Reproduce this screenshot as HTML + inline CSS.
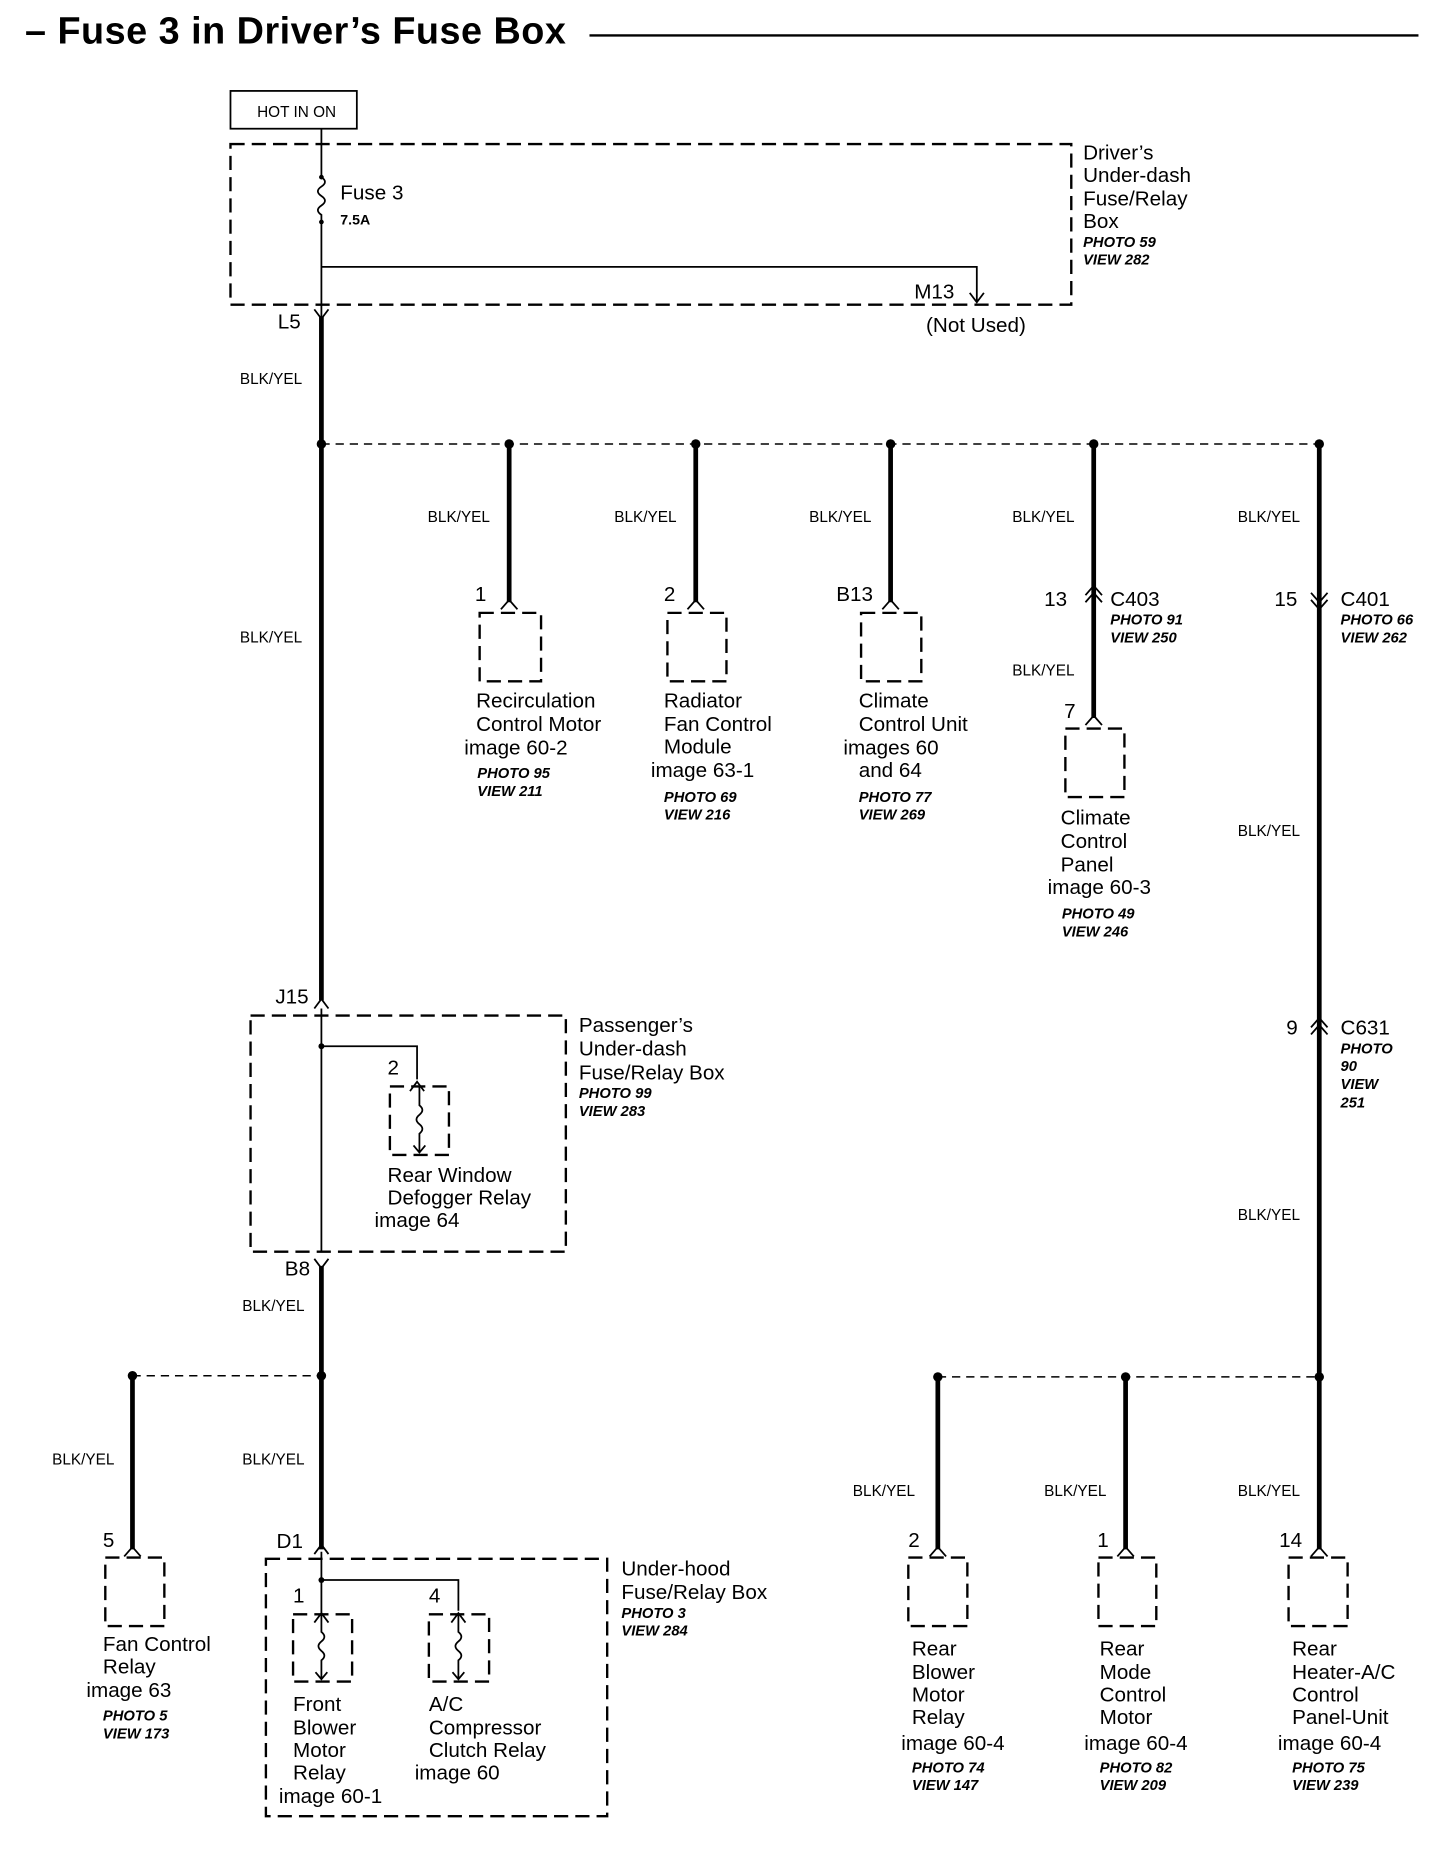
<!DOCTYPE html>
<html><head><meta charset="utf-8"><style>
html,body{margin:0;padding:0;background:#fff}
svg{display:block}
text{font-family:"Liberation Sans",sans-serif;fill:#000}
.l{font-size:17.5px}
.w{font-size:13px}
.p{font-size:12.5px;font-style:italic;font-weight:bold}
.t{stroke:#000;stroke-width:4;fill:none}
.n{stroke:#000;stroke-width:1.5;fill:none}
.d{stroke:#000;stroke-width:2;fill:none;stroke-dasharray:12 6}
.dl{stroke:#000;stroke-width:1.3;fill:none;stroke-dasharray:7 5}
</style></head><body>
<svg width="1456" height="1850" viewBox="0 0 1240 1576" xmlns="http://www.w3.org/2000/svg">
<g transform="translate(1,2) scale(1.006)">
<text x="20" y="35" style="font-size:32px;font-weight:bold" textLength="458">– Fuse 3 in Driver’s Fuse Box</text>
<line x1="498" y1="28" x2="1200" y2="28" stroke="#000" stroke-width="2"/>

<rect x="194" y="75" width="107" height="32" class="n"/>
<text x="250" y="97" text-anchor="middle" style="font-size:13px">HOT IN ON</text>
<rect x="194" y="120" width="712" height="136" class="d"/>
<path class="n" d="M271 107 V148 q6 4 0 8 q-6 4 0 8 q6 4 0 8 q-6 4 0 8 V270"/>
<circle cx="271" cy="148" r="2"/><circle cx="271" cy="186" r="2"/>
<text x="287" y="167" class="l">Fuse 3</text>
<text x="287" y="188" style="font-size:12px;font-weight:bold">7.5A</text>
<path class="n" d="M271 224 H826 V254 M820 246 L826 254 L832 246"/>
<text x="773" y="251" class="l">M13</text>
<text x="783" y="279" class="l">(Not Used)</text>
<text x="916" y="133" class="l">Driver’s</text>
<text x="916" y="152" class="l">Under-dash</text>
<text x="916" y="172" class="l">Fuse/Relay</text>
<text x="916" y="191" class="l">Box</text>
<text x="916" y="207" class="p">PHOTO 59</text>
<text x="916" y="222" class="p">VIEW 282</text>

<text x="234" y="276" class="l">L5</text>
<path class="n" d="M265 260 L271 268 L277 260"/>
<line x1="271" y1="266" x2="271" y2="845" class="t"/>
<text x="202" y="323" class="w">BLK/YEL</text>
<text x="202" y="542" class="w">BLK/YEL</text>

<line x1="271" y1="374" x2="1116" y2="374" class="dl"/>
<g fill="#000"><circle cx="271" cy="374" r="4"/><circle cx="430" cy="374" r="4"/><circle cx="588" cy="374" r="4"/><circle cx="753" cy="374" r="4"/><circle cx="925" cy="374" r="4"/><circle cx="1116" cy="374" r="4"/></g>

<g>
<line x1="430" y1="374" x2="430" y2="508" class="t"/>
<path class="n" d="M423 514 L430 506 L437 514"/>
<rect x="405" y="517" width="52" height="58" class="d"/>
<line x1="588" y1="374" x2="588" y2="508" class="t"/>
<path class="n" d="M581 514 L588 506 L595 514"/>
<rect x="564" y="517" width="50" height="58" class="d"/>
<line x1="753" y1="374" x2="753" y2="508" class="t"/>
<path class="n" d="M746 514 L753 506 L760 514"/>
<rect x="728" y="517" width="51" height="58" class="d"/>
</g>
<text x="361" y="440" class="w">BLK/YEL</text>
<text x="519" y="440" class="w">BLK/YEL</text>
<text x="684" y="440" class="w">BLK/YEL</text>
<text x="856" y="440" class="w">BLK/YEL</text>
<text x="1047" y="440" class="w">BLK/YEL</text>
<text x="401" y="507" class="l">1</text>
<text x="561" y="507" class="l">2</text>
<text x="707" y="507" class="l">B13</text>
<text x="402" y="597" class="l">Recirculation</text>
<text x="402" y="617" class="l">Control Motor</text>
<text x="392" y="637" class="l">image 60-2</text>
<text x="403" y="657" class="p">PHOTO 95</text>
<text x="403" y="672" class="p">VIEW 211</text>
<text x="561" y="597" class="l">Radiator</text>
<text x="561" y="617" class="l">Fan Control</text>
<text x="561" y="636" class="l">Module</text>
<text x="550" y="656" class="l">image 63-1</text>
<text x="561" y="677" class="p">PHOTO 69</text>
<text x="561" y="692" class="p">VIEW 216</text>
<text x="726" y="597" class="l">Climate</text>
<text x="726" y="617" class="l">Control Unit</text>
<text x="713" y="637" class="l">images 60</text>
<text x="726" y="656" class="l">and 64</text>
<text x="726" y="677" class="p">PHOTO 77</text>
<text x="726" y="692" class="p">VIEW 269</text>

<line x1="925" y1="374" x2="925" y2="606" class="t"/>
<path class="n" d="M918 502 L925 494 L932 502 M918 508 L925 500 L932 508" stroke-width="2"/>
<path class="n" d="M918 612 L925 604 L932 612"/>
<text x="883" y="511" class="l">13</text>
<text x="939" y="511" class="l">C403</text>
<text x="939" y="527" class="p">PHOTO 91</text>
<text x="939" y="542" class="p">VIEW 250</text>
<text x="856" y="570" class="w">BLK/YEL</text>
<text x="900" y="606" class="l">7</text>
<rect x="901" y="615" width="50" height="58" class="d"/>
<text x="897" y="696" class="l">Climate</text>
<text x="897" y="716" class="l">Control</text>
<text x="897" y="736" class="l">Panel</text>
<text x="886" y="755" class="l">image 60-3</text>
<text x="898" y="776" class="p">PHOTO 49</text>
<text x="898" y="791" class="p">VIEW 246</text>

<line x1="1116" y1="374" x2="1116" y2="1164" class="t"/>
<path class="n" d="M1109 500 L1116 508 L1123 500 M1109 506 L1116 514 L1123 506" stroke-width="2" fill="#fff"/>
<text x="1078" y="511" class="l">15</text>
<text x="1134" y="511" class="l">C401</text>
<text x="1134" y="527" class="p">PHOTO 66</text>
<text x="1134" y="542" class="p">VIEW 262</text>
<text x="1047" y="706" class="w">BLK/YEL</text>
<path class="n" d="M1109 868 L1116 860 L1123 868 M1109 874 L1116 866 L1123 874" stroke-width="2"/>
<text x="1088" y="874" class="l">9</text>
<text x="1134" y="874" class="l">C631</text>
<text x="1134" y="890" class="p">PHOTO</text>
<text x="1134" y="905" class="p">90</text>
<text x="1134" y="920" class="p">VIEW</text>
<text x="1134" y="936" class="p">251</text>
<text x="1047" y="1031" class="w">BLK/YEL</text>

<text x="232" y="848" class="l">J15</text>
<path class="n" d="M265 852 L271 844 L277 852"/>
<rect x="211" y="858" width="267" height="200" class="d"/>
<line x1="271" y1="852" x2="271" y2="1058" class="n"/>
<circle cx="271" cy="884" r="2.5"/>
<path class="n" d="M271 884 H352 V912"/>
<path class="n" d="M346 922 L352 914 L358 922"/>
<text x="327" y="908" class="l">2</text>
<rect x="329" y="918" width="50" height="58" class="d"/>
<path class="n" d="M354 918 V934 q5 4 0 8 q-5 4 0 8 q5 4 0 8 V974 M349 968 L354 974 L359 968"/>
<text x="327" y="999" class="l">Rear Window</text>
<text x="327" y="1018" class="l">Defogger Relay</text>
<text x="316" y="1037" class="l">image 64</text>
<text x="489" y="872" class="l">Passenger’s</text>
<text x="489" y="892" class="l">Under-dash</text>
<text x="489" y="912" class="l">Fuse/Relay Box</text>
<text x="489" y="928" class="p">PHOTO 99</text>
<text x="489" y="943" class="p">VIEW 283</text>

<text x="240" y="1078" class="l">B8</text>
<path class="n" d="M265 1064 L271 1072 L277 1064"/>
<line x1="271" y1="1070" x2="271" y2="1310" class="t"/>
<text x="204" y="1108" class="w">BLK/YEL</text>
<line x1="111" y1="1163" x2="271" y2="1163" class="dl"/>
<circle cx="111" cy="1163" r="4"/><circle cx="271" cy="1163" r="4"/>
<line x1="111" y1="1163" x2="111" y2="1310" class="t"/>
<path class="n" d="M104 1316 L111 1308 L118 1316"/>
<text x="43" y="1238" class="w">BLK/YEL</text>
<text x="204" y="1238" class="w">BLK/YEL</text>
<text x="86" y="1308" class="l">5</text>
<rect x="88" y="1317" width="50" height="58" class="d"/>
<text x="86" y="1396" class="l">Fan Control</text>
<text x="86" y="1415" class="l">Relay</text>
<text x="72" y="1435" class="l">image 63</text>
<text x="86" y="1455" class="p">PHOTO 5</text>
<text x="86" y="1470" class="p">VIEW 173</text>

<text x="233" y="1309" class="l">D1</text>
<path class="n" d="M265 1314 L271 1306 L277 1314"/>
<rect x="224" y="1318" width="289" height="218" class="d"/>
<path class="n" d="M271 1312 V1365 M271 1336 H387 V1362"/>
<circle cx="271" cy="1336" r="2.5"/>
<text x="247" y="1355" class="l">1</text>
<text x="362" y="1355" class="l">4</text>
<rect x="247" y="1365" width="50" height="57" class="d"/>
<rect x="362" y="1365" width="51" height="57" class="d"/>
<path class="n" d="M265 1372 L271 1364 L277 1372 M271 1364 V1380 q5 4 0 8 q-5 4 0 8 q5 4 0 8 V1420 M266 1414 L271 1420 L276 1414"/>
<path class="n" d="M381 1372 L387 1364 L393 1372 M387 1364 V1380 q5 4 0 8 q-5 4 0 8 q5 4 0 8 V1420 M382 1414 L387 1420 L392 1414"/>
<text x="247" y="1447" class="l">Front</text>
<text x="247" y="1467" class="l">Blower</text>
<text x="247" y="1486" class="l">Motor</text>
<text x="247" y="1505" class="l">Relay</text>
<text x="235" y="1525" class="l">image 60-1</text>
<text x="362" y="1447" class="l">A/C</text>
<text x="362" y="1467" class="l">Compressor</text>
<text x="362" y="1486" class="l">Clutch Relay</text>
<text x="350" y="1505" class="l">image 60</text>
<text x="525" y="1332" class="l">Under-hood</text>
<text x="525" y="1352" class="l">Fuse/Relay Box</text>
<text x="525" y="1368" class="p">PHOTO 3</text>
<text x="525" y="1383" class="p">VIEW 284</text>

<line x1="793" y1="1164" x2="1116" y2="1164" class="dl"/>
<circle cx="793" cy="1164" r="4"/><circle cx="952" cy="1164" r="4"/><circle cx="1116" cy="1164" r="4"/>
<line x1="793" y1="1164" x2="793" y2="1310" class="t"/>
<line x1="952" y1="1164" x2="952" y2="1310" class="t"/>
<line x1="1116" y1="1164" x2="1116" y2="1310" class="t"/>
<path class="n" d="M786 1316 L793 1308 L800 1316 M945 1316 L952 1308 L959 1316 M1109 1316 L1116 1308 L1123 1316"/>
<text x="721" y="1265" class="w">BLK/YEL</text>
<text x="883" y="1265" class="w">BLK/YEL</text>
<text x="1047" y="1265" class="w">BLK/YEL</text>
<text x="768" y="1308" class="l">2</text>
<text x="928" y="1308" class="l">1</text>
<text x="1082" y="1308" class="l">14</text>
<rect x="768" y="1317" width="50" height="58" class="d"/>
<rect x="929" y="1317" width="49" height="58" class="d"/>
<rect x="1090" y="1317" width="50" height="58" class="d"/>
<text x="771" y="1400" class="l">Rear</text>
<text x="771" y="1420" class="l">Blower</text>
<text x="771" y="1439" class="l">Motor</text>
<text x="771" y="1458" class="l">Relay</text>
<text x="762" y="1480" class="l">image 60-4</text>
<text x="771" y="1499" class="p">PHOTO 74</text>
<text x="771" y="1514" class="p">VIEW 147</text>
<text x="930" y="1400" class="l">Rear</text>
<text x="930" y="1420" class="l">Mode</text>
<text x="930" y="1439" class="l">Control</text>
<text x="930" y="1458" class="l">Motor</text>
<text x="917" y="1480" class="l">image 60-4</text>
<text x="930" y="1499" class="p">PHOTO 82</text>
<text x="930" y="1514" class="p">VIEW 209</text>
<text x="1093" y="1400" class="l">Rear</text>
<text x="1093" y="1420" class="l">Heater-A/C</text>
<text x="1093" y="1439" class="l">Control</text>
<text x="1093" y="1458" class="l">Panel-Unit</text>
<text x="1081" y="1480" class="l">image 60-4</text>
<text x="1093" y="1499" class="p">PHOTO 75</text>
<text x="1093" y="1514" class="p">VIEW 239</text>
</g>
</svg>
</body></html>
